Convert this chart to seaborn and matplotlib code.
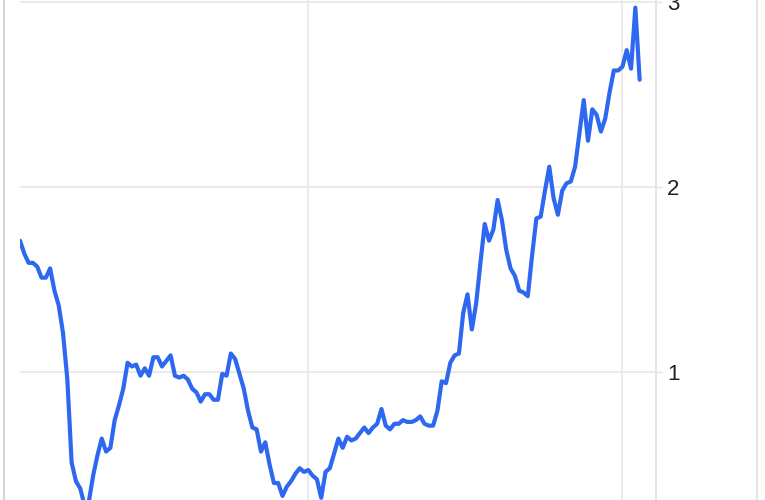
import pandas as pd
import numpy as np
import matplotlib.pyplot as plt
import matplotlib.dates as mdates
from matplotlib.lines import Line2D
import seaborn as sns

# Series (one value every 5 days)
start_date = "2020-02-01"
step = "5D"
values = [
    1.71, 1.64, 1.59, 1.59, 1.57, 1.51, 1.51, 1.56, 1.44, 1.36,
    1.21, 0.96, 0.51, 0.41, 0.37, 0.28, 0.30, 0.44, 0.55, 0.64,
    0.57, 0.59, 0.74, 0.82, 0.91, 1.05, 1.03, 1.04, 0.98, 1.02,
    0.98, 1.08, 1.08, 1.03, 1.06, 1.09, 0.98, 0.97, 0.98, 0.96,
    0.91, 0.89, 0.84, 0.88, 0.88, 0.85, 0.85, 0.99, 0.98, 1.10,
    1.07, 0.99, 0.91, 0.79, 0.70, 0.69, 0.57, 0.62, 0.50, 0.40,
    0.40, 0.33, 0.38, 0.41, 0.45, 0.48, 0.46, 0.47, 0.44, 0.42,
    0.32, 0.46, 0.48, 0.56, 0.64, 0.59, 0.65, 0.63, 0.64, 0.67,
    0.70, 0.67, 0.70, 0.72, 0.80, 0.71, 0.69, 0.72, 0.72, 0.74,
    0.73, 0.73, 0.74, 0.76, 0.72, 0.71, 0.71, 0.79, 0.95, 0.94,
    1.05, 1.09, 1.10, 1.32, 1.42, 1.23, 1.37, 1.59, 1.80, 1.71,
    1.77, 1.93, 1.82, 1.66, 1.56, 1.52, 1.44, 1.43, 1.41, 1.63,
    1.83, 1.84, 1.98, 2.11, 1.94, 1.85, 1.98, 2.02, 2.03, 2.11,
    2.29, 2.47, 2.25, 2.42, 2.39, 2.30, 2.37, 2.51, 2.63, 2.63,
    2.65, 2.74, 2.64, 2.97, 2.58,
]
y_ticks = [1, 2, 3]
x_range = ["2020-02-01", "2022-02-09"]

dates = pd.date_range(start_date, periods=len(values), freq=step)
df = pd.DataFrame({"date": dates, "value": values})

sns.set_style("white")
plt.rcParams["font.family"] = ["Liberation Sans", "DejaVu Sans"]

fig = plt.figure(figsize=(7.65, 5.0), dpi=100)
# the reference is a crop: the plot continues below the picture
ax = fig.add_axes([20 / 765, -57 / 500, 636 / 765, 557 / 500])

sns.lineplot(data=df, x="date", y="value", ax=ax, color="#2e68f0",
             linewidth=3.0, solid_joinstyle="round")

ax.set_xlim(pd.Timestamp(x_range[0]), pd.Timestamp(x_range[1]))
ax.set_ylim(0, 3.011)
ax.set_yticks(y_ticks)
ax.yaxis.tick_right()
ax.xaxis.set_major_locator(mdates.YearLocator())
ax.set_xticklabels([])
ax.tick_params(axis="y", length=4.5, width=1.0, color="#e3e3e3", pad=3.5,
               labelsize=16, labelcolor="#222222")
ax.tick_params(axis="x", length=0)
ax.set_xlabel("")
ax.set_ylabel("")

ax.grid(True, color="#e8e8e8", linewidth=1.3)
ax.set_axisbelow(True)
for side in ["top", "left", "bottom"]:
    ax.spines[side].set_visible(False)
ax.spines["right"].set_color("#e3e3e3")
ax.spines["right"].set_linewidth(1.3)

# outer card border
fig.add_artist(Line2D([4 / 765, 4 / 765], [0, 1], color="#d6d6d6", linewidth=1.5))
fig.add_artist(Line2D([757 / 765, 757 / 765], [0, 1], color="#e6e6e6", linewidth=1.5))

fig.savefig("out.png", dpi=100)
